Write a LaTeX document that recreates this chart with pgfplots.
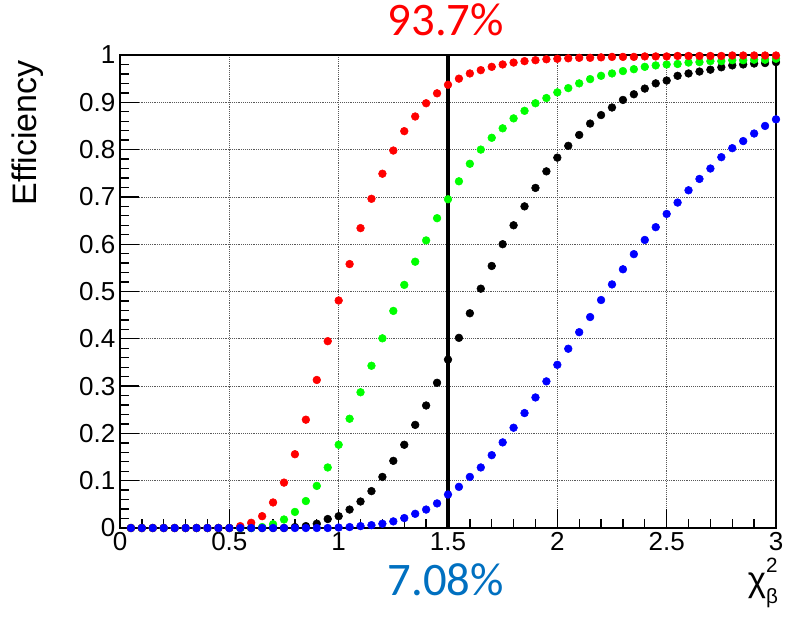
\documentclass[border=0pt]{standalone}
\usepackage{pgfplots}
\pgfplotsset{compat=1.18}
\usepackage{pgfplotstable}
\usepackage{fontspec}
\setmainfont{Liberation Sans}
\newfontfamily\calibri{Carlito}
\definecolor{annblue}{RGB}{0,112,192}
\definecolor{rootred}{RGB}{255,0,0}
\definecolor{rootgreen}{RGB}{0,255,0}
\definecolor{rootblue}{RGB}{0,0,255}

\pgfplotstableread{
x    r      g      k      b
0.05 0      0      0      0
0.10 0      0      0      0
0.15 0      0      0      0
0.20 0      0      0      0
0.25 0      0      0      0
0.30 0      0      0      0
0.35 0      0      0      0
0.40 0      0      0      0
0.45 0      0      0      0
0.50 0      0      0      0
0.55 0.004  0      0      0
0.60 0.011  0      0      0
0.65 0.025  0.002  0      0
0.70 0.054  0.008  0      0
0.75 0.096  0.018  0      0
0.80 0.156  0.034  0.002  0
0.85 0.229  0.057  0.004  0
0.90 0.313  0.089  0.009  0
0.95 0.395  0.128  0.019  0
1.00 0.481  0.176  0.025  0.001
1.05 0.558  0.231  0.039  0.002
1.10 0.634  0.287  0.056  0.004
1.15 0.696  0.343  0.078  0.006
1.20 0.749  0.401  0.108  0.009
1.25 0.798  0.459  0.142  0.014
1.30 0.839  0.514  0.176  0.021
1.35 0.870  0.563  0.218  0.030
1.40 0.898  0.608  0.259  0.039
1.45 0.919  0.655  0.307  0.052
1.50 0.937  0.695  0.356  0.0708
1.55 0.950  0.733  0.402  0.087
1.60 0.961  0.770  0.454  0.108
1.65 0.968  0.800  0.506  0.128
1.70 0.975  0.825  0.554  0.154
1.75 0.980  0.845  0.600  0.181
1.80 0.984  0.866  0.640  0.212
1.85 0.987  0.882  0.680  0.243
1.90 0.989  0.898  0.719  0.276
1.95 0.991  0.909  0.754  0.310
2.00 0.992  0.921  0.783  0.345
2.05 0.993  0.930  0.808  0.379
2.10 0.994  0.940  0.831  0.414
2.15 0.994  0.949  0.855  0.446
2.20 0.995  0.956  0.873  0.482
2.25 0.996  0.961  0.889  0.515
2.30 0.996  0.966  0.905  0.547
2.35 0.996  0.970  0.917  0.579
2.40 0.997  0.975  0.929  0.609
2.45 0.997  0.978  0.940  0.636
2.50 0.997  0.980  0.946  0.664
2.55 0.998  0.981  0.956  0.688
2.60 0.998  0.984  0.961  0.714
2.65 0.998  0.985  0.965  0.738
2.70 0.998  0.987  0.969  0.760
2.75 0.998  0.987  0.974  0.784
2.80 0.999  0.989  0.978  0.803
2.85 0.999  0.989  0.980  0.818
2.90 0.999  0.990  0.982  0.834
2.95 0.999  0.990  0.983  0.850
3.00 0.999  0.992  0.985  0.864
}\effdata

\begin{document}
\begin{tikzpicture}
\begin{axis}[
  at={(0,0)}, anchor=south west,
  scale only axis, width=492pt, height=354.75pt,
  xmin=0, xmax=3, ymin=0, ymax=1,
  xtick={0,0.5,1,1.5,2,2.5,3},
  xticklabels={0,0.5,1,1.5,2,2.5,3},
  ytick={0,0.1,0.2,0.3,0.4,0.5,0.6,0.7,0.8,0.9,1},
  yticklabels={0,0.1,0.2,0.3,0.4,0.5,0.6,0.7,0.8,0.9,1},
  minor x tick num=4, minor y tick num=4,
  tick pos=left, tick align=inside,
  major tick length=14pt, minor tick length=7pt,
  grid=major,
  major grid style={densely dotted, black!65, line width=0.6pt},
  axis line style={line width=1.1pt},
  every tick/.style={black, line width=1pt},
  tick label style={font=\fontsize{19.5}{19.5}\selectfont},
  /pgf/number format/assume math mode=true,
  clip=false,
]
\addplot[black, line width=3pt] coordinates {(1.5,0) (1.5,1)};
\addplot[only marks, mark=*, mark size=2.9pt, black, mark options={fill=black}] table[x=x,y=k] {\effdata};
\addplot[only marks, mark=*, mark size=2.9pt, rootgreen, mark options={fill=rootgreen}] table[x=x,y=g] {\effdata};
\addplot[only marks, mark=*, mark size=2.9pt, rootred, mark options={fill=rootred}] table[x=x,y=r] {\effdata};
\addplot[only marks, mark=*, mark size=2.9pt, rootblue, mark options={fill=rootblue}] table[x=x,y=b] {\effdata};
\node[font=\calibri\fontsize{35}{35}\selectfont, text=rootred, anchor=base] at (axis cs:1.49,1.042) {93.7\%};
\node[font=\calibri\fontsize{35}{35}\selectfont, text=annblue, anchor=base] at (axis cs:1.49,-0.142) {7.08\%};
\node[font=\fontsize{26}{26}\selectfont, anchor=base east, inner sep=0pt] at (axis cs:3.01,-0.135)
  {χ\rlap{\raisebox{0.55em}{\fontsize{15.5}{15.5}\selectfont 2}}\raisebox{-0.35em}{\fontsize{15.5}{15.5}\selectfont β}};
\end{axis}
\node[rotate=90, anchor=east, inner sep=0pt, font=\fontsize{25.5}{25.5}\selectfont] at (-69pt,351pt) {Efficiency};
\pgfresetboundingbox
\path[use as bounding box] (-90pt,-68.25pt) rectangle (499.5pt,396pt);
\end{tikzpicture}
\end{document}
